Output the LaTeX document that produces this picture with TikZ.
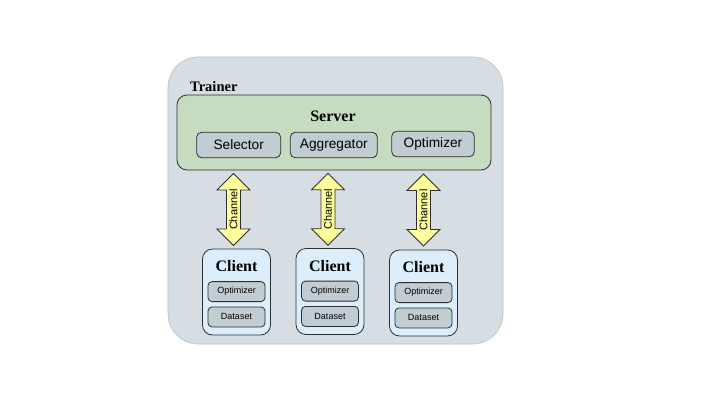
\documentclass[tikz,border=0pt]{standalone}
\usepackage{fontspec}
\setmainfont{Liberation Serif}
\setsansfont{Liberation Sans}
\usetikzlibrary{shapes.arrows, positioning, calc}

\definecolor{trainerfill}{HTML}{D6DEE4}
\definecolor{trainerline}{HTML}{B8C2C8}
\definecolor{serverfill}{HTML}{C6DCC0}
\definecolor{partfill}{HTML}{C1CDD3}
\definecolor{clientfill}{HTML}{DCEEFC}
\definecolor{channelfill}{HTML}{FFFF9E}
\definecolor{edge}{HTML}{2E2E2E}

\tikzset{
    trainerbox/.style={draw=trainerline, fill=trainerfill, rounded corners=30pt, line width=0.6pt},
    serverbox/.style={draw=edge, fill=serverfill, rounded corners=10pt, line width=0.8pt},
    clientbox/.style={draw=edge, fill=clientfill, rounded corners=10pt, line width=0.8pt,
        minimum width=68pt, minimum height=86pt},
    partbox/.style={draw=edge, fill=partfill, rounded corners=5pt, line width=0.8pt,
        font=\sffamily\fontsize{13.7}{16}\selectfont, minimum height=25.5pt, inner sep=0pt},
    smallpart/.style={draw=edge, fill=partfill, rounded corners=4pt, line width=0.8pt,
        font=\sffamily\fontsize{9}{11}\selectfont, minimum width=57pt, minimum height=20pt, inner sep=0pt},
    title/.style={font=\bfseries\fontsize{16}{18}\selectfont, inner sep=0pt},
    channel/.style={double arrow, draw=edge, fill=channelfill, line width=0.8pt, rotate=90,
        font=\sffamily\fontsize{11}{13}\selectfont, inner xsep=0pt, inner ysep=2.5pt,
        minimum height=72pt, double arrow head extend=9.5pt, double arrow tip angle=90}
}

\begin{document}
\begin{tikzpicture}[x=1pt, y=-1pt]
    \useasboundingbox (0,0) rectangle (720,405);
    % Trainer
    \node[trainerbox, minimum width=335pt, minimum height=287pt] (trainer) at (335.5,200.5) {};
    \node[anchor=west, font=\bfseries\fontsize{14.5}{16}\selectfont, inner sep=0pt] (trainerlabel) at (190,87) {Trainer};
    % Server
    \node[serverbox, minimum width=314pt, minimum height=75pt] (server) at (334,132.5) {};
    \node[title] (servertitle) at (333,116) {Server};
    \node[partbox, minimum width=84pt] (sel) at (238.7,145) {Selector};
    \node[partbox, minimum width=87pt] (agg) at (333.8,145) {Aggregator};
    \node[partbox, minimum width=82.6pt] (opt) at (433,144) {Optimizer};
    % Clients
    \node[clientbox] (cl1) at (236.5,292) {};
    \node[title, below=12pt of cl1.north] (cl1title) {Client};
    \node[smallpart] (cl1opt) at ($(cl1.north)+(0,43)$) {Optimizer};
    \node[smallpart, below=4.5pt of cl1opt] (cl1data) {Dataset};
    \node[clientbox] (cl2) at (330,291.5) {};
    \node[title, below=12pt of cl2.north] (cl2title) {Client};
    \node[smallpart] (cl2opt) at ($(cl2.north)+(0,43)$) {Optimizer};
    \node[smallpart, below=4.5pt of cl2opt] (cl2data) {Dataset};
    \node[clientbox] (cl3) at (423.5,293) {};
    \node[title, below=12pt of cl3.north] (cl3title) {Client};
    \node[smallpart] (cl3opt) at ($(cl3.north)+(0,43)$) {Optimizer};
    \node[smallpart, below=4.5pt of cl3opt] (cl3data) {Dataset};
    % Channels between server and clients
    \node[channel] (ch1) at ($(server.south -| cl1.north)!0.5!(cl1.north)+(-3,0)$) {Channel};
    \node[channel] (ch2) at ($(server.south -| cl2.north)!0.5!(cl2.north)+(-2,0)$) {Channel};
    \node[channel] (ch3) at ($(server.south -| cl3.north)!0.5!(cl3.north)$) {Channel};
\end{tikzpicture}
\end{document}
